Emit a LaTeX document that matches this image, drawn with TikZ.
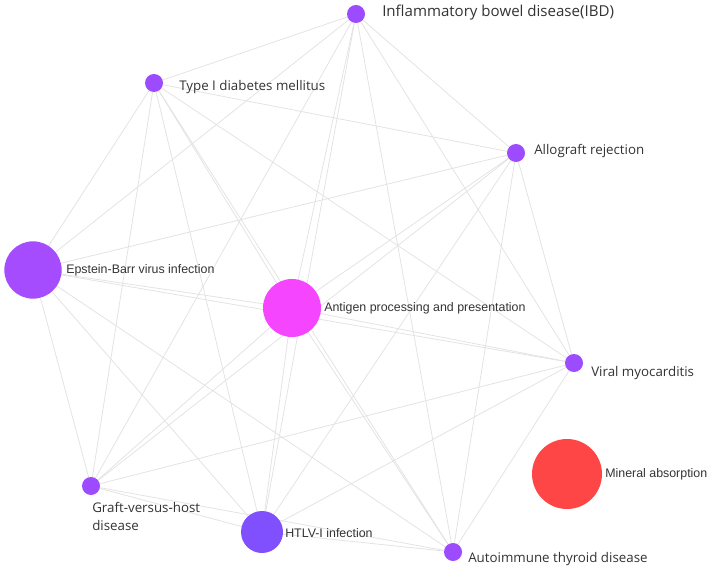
\documentclass[tikz,border=0pt]{standalone}
\usepackage{fontspec}
\setmainfont{Open Sans}
\newfontfamily\arialf{Liberation Sans}
\definecolor{nodepurple}{HTML}{9D4BFF}
\definecolor{ebvpurple}{HTML}{A64CFF}
\definecolor{htlvpurple}{HTML}{8050FF}
\definecolor{antigenpink}{HTML}{F645FF}
\definecolor{mineralred}{HTML}{FF4646}
\definecolor{edgegray}{HTML}{E3E3E3}
\definecolor{labeltext}{HTML}{333333}
\pgfdeclarelayer{bg}
\pgfsetlayers{bg,main}
\tikzset{
  dot/.style={circle, inner sep=0pt, draw=none, fill=#1},
  lbl/.style={anchor=west, inner sep=0pt, text=labeltext, font=\fontsize{10}{13.5}\selectfont},
  lbla/.style={anchor=west, inner sep=0pt, text=labeltext, font=\arialf\fontsize{9.3}{11}\selectfont},
  edge/.style={draw=edgegray, line width=0.6pt},
}
\begin{document}
\begin{tikzpicture}[x=0.75pt, y=-0.75pt]
\useasboundingbox (0,0) rectangle (710,570);
% nodes
\node[dot=nodepurple, minimum size=13.5pt] (ibd) at (356,14) {};
\node[dot=nodepurple, minimum size=13.5pt] (t1d) at (154,83) {};
\node[dot=nodepurple, minimum size=13.5pt] (allo) at (516,153) {};
\node[dot=ebvpurple, minimum size=43pt] (ebv) at (33,270) {};
\node[dot=antigenpink, minimum size=43.5pt] (ant) at (292,308) {};
\node[dot=nodepurple, minimum size=13.5pt] (vm) at (574,363) {};
\node[dot=mineralred, minimum size=52.5pt] (min) at (567,474) {};
\node[dot=nodepurple, minimum size=13.5pt] (gvh) at (91,486) {};
\node[dot=htlvpurple, minimum size=31.5pt] (htlv) at (262,532) {};
\node[dot=nodepurple, minimum size=13.5pt] (aitd) at (453,552) {};
% edges
\begin{pgfonlayer}{bg}
\foreach \a/\b in {ibd/t1d,ibd/allo,ibd/ebv,ibd/ant,ibd/vm,ibd/gvh,ibd/htlv,ibd/aitd,
  t1d/allo,t1d/ebv,t1d/ant,t1d/vm,t1d/gvh,t1d/htlv,t1d/aitd,
  allo/ebv,allo/ant,allo/vm,allo/gvh,allo/htlv,allo/aitd,
  ebv/ant,ebv/vm,ebv/gvh,ebv/htlv,ebv/aitd,
  ant/vm,ant/gvh,ant/htlv,ant/aitd,
  vm/gvh,vm/htlv,vm/aitd,
  gvh/htlv,gvh/aitd,
  htlv/aitd}
  {\draw[edge] (\a.center) -- (\b.center);}
\end{pgfonlayer}
% labels
\node[lbl, font=\fontsize{11.3}{14}\selectfont] (ibdl) at (382,13) {Inflammatory bowel disease(IBD)};
\node[lbl] (t1dl) at (179,87) {Type I diabetes mellitus};
\node[lbl] (allol) at (534,151) {Allograft rejection};
\node[lbla] (ebvl) at (66,270) {Epstein-Barr virus infection};
\node[lbla] (antl) at (324,308) {Antigen processing and presentation};
\node[lbl] (vml) at (591,373) {Viral myocarditis};
\node[lbla] (minl) at (605,474) {Mineral absorption};
\node[lbl, anchor=north west, align=left] (gvhl) at (92,502) {Graft-versus-host\\disease};
\node[lbla] (htlvl) at (285,533) {HTLV-I infection};
\node[lbl] (aitdl) at (468,559) {Autoimmune thyroid disease};
\end{tikzpicture}
\end{document}
